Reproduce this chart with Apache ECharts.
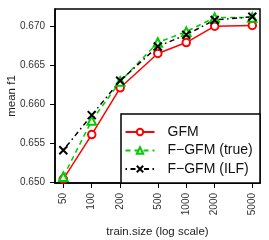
<!DOCTYPE html>
<html><head><meta charset="utf-8">
<script src="https://cdn.jsdelivr.net/npm/echarts@6/dist/echarts.min.js"></script>
<style>html,body{margin:0;padding:0;background:#fff}#c{width:269px;height:240px}</style>
</head><body><div id="c"></div>
<script>
const trainSizes = [50, 100, 200, 500, 1000, 2000, 5000];
const gfm      = [0.6504, 0.6561, 0.6621, 0.6665, 0.6679, 0.6700, 0.6701];
const fgfmTrue = [0.6507, 0.6579, 0.6629, 0.6679, 0.6693, 0.6711, 0.6711];
const fgfmILF  = [0.6541, 0.6586, 0.6630, 0.6674, 0.6689, 0.6708, 0.6712];
const yTicks = [0.650, 0.655, 0.660, 0.665, 0.670];
const seriesNames = ['GFM', 'F\u2212GFM (true)', 'F\u2212GFM (ILF)'];

const lg = v => Math.log10(v);
const toPts = arr => trainSizes.map((s, i) => [lg(s), arr[i]]);
const FONT = 'Liberation Sans, Arial, Helvetica, sans-serif';

const chart = echarts.init(document.getElementById('c'), null, {renderer: 'canvas'});
chart.setOption({
  animation: false,
  backgroundColor: '#fff',
  grid: {left: 55, right: 9, top: 9, bottom: 57, containLabel: false, outerBoundsMode: 'none',
    show: true, borderColor: '#000', borderWidth: 1.5, backgroundColor: 'transparent'},
  xAxis: {
    type: 'value', min: 1.6112, max: 3.7805,
    name: 'train.size (log scale)', nameLocation: 'middle', nameGap: 43, nameMoveOverlap: false,
    nameTextStyle: {fontFamily: FONT, fontSize: 11.5, color: '#222'},
    axisLine: {show: true, onZero: false, lineStyle: {color: '#000', width: 1.5}},
    splitLine: {show: false},
    axisTick: {show: true, inside: false, length: 5, customValues: trainSizes.map(lg), lineStyle: {color: '#000', width: 1}},
    axisLabel: {show: true, rotate: 90, margin: 10, fontFamily: FONT, fontSize: 10, color: '#333',
      customValues: trainSizes.map(lg), formatter: v => String(Math.round(Math.pow(10, v)))}
  },
  yAxis: {
    type: 'value', min: 0.6499, max: 0.6722,
    name: 'mean f1', nameLocation: 'middle', nameGap: 37, nameMoveOverlap: false,
    nameTextStyle: {fontFamily: FONT, fontSize: 11.5, color: '#222'},
    axisLine: {show: true, onZero: false, lineStyle: {color: '#000', width: 1.5}},
    splitLine: {show: false},
    axisTick: {show: true, inside: false, length: 5, customValues: yTicks, lineStyle: {color: '#000', width: 1}},
    axisLabel: {show: true, margin: 10, fontFamily: FONT, fontSize: 10, color: '#333',
      customValues: yTicks, formatter: v => v.toFixed(3)}
  },
  legend: {
    orient: 'vertical', left: 124.5, top: 124, z: 10, padding: 0,
    itemWidth: 29, itemHeight: 8, itemGap: 2.5,
    textStyle: {fontFamily: FONT, fontSize: 14, color: '#111', lineHeight: 16, padding: [0, 0, 0, 8]},
    data: seriesNames
  },
  graphic: [{type: 'rect', z: 5, shape: {x: 121, y: 114, width: 139, height: 69},
    style: {fill: '#fff', stroke: '#000', lineWidth: 1.5}}],
  series: [
    {name: seriesNames[0], type: 'line', data: toPts(gfm), z: 3,
      symbol: 'emptyCircle', symbolSize: 7.5,
      lineStyle: {color: '#ff0000', width: 1.5, type: 'solid'},
      itemStyle: {color: '#ff0000', borderColor: '#ff0000', borderWidth: 1.5}},
    {name: seriesNames[1], type: 'line', data: toPts(fgfmTrue), z: 3,
      symbol: 'emptyTriangle', symbolSize: 8.5,
      lineStyle: {color: '#00cd00', width: 1.5, type: [5, 4]},
      itemStyle: {color: '#00cd00', borderColor: '#00cd00', borderWidth: 1.5}},
    {name: seriesNames[2], type: 'line', data: toPts(fgfmILF), z: 3,
      symbol: 'path://M0,0L10,10M10,0L0,10', symbolSize: 8,
      lineStyle: {color: '#000', width: 1.5, type: [1.5, 3.5, 5, 3.5]},
      itemStyle: {color: 'none', borderColor: '#000', borderWidth: 2}}
  ]
});
</script></body></html>
